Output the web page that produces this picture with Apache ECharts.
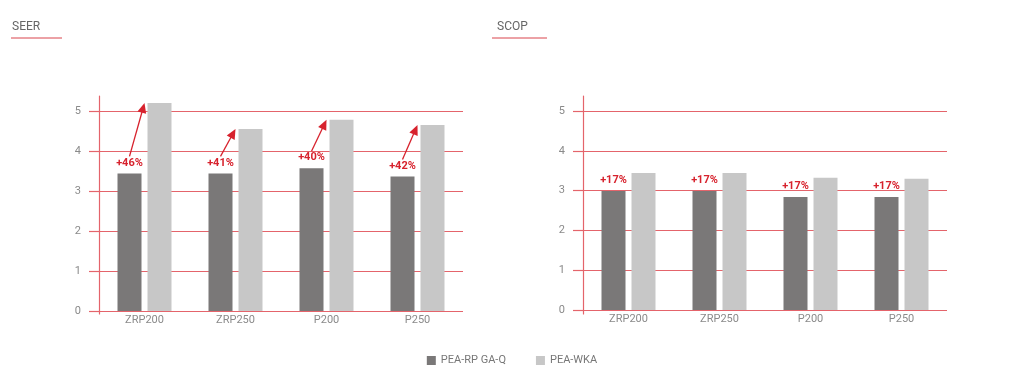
<!DOCTYPE html>
<html>
<head>
<meta charset="utf-8">
<script src="https://cdn.jsdelivr.net/npm/echarts@6/dist/echarts.min.js"></script>
<style>html,body{margin:0;padding:0;background:#fff;}#c{width:1024px;height:382px;}</style>
</head>
<body>
<div id="c"></div>
<script>
const categories = ['ZRP200', 'ZRP250', 'P200', 'P250'];
const seriesNames = ['PEA-RP GA-Q', 'PEA-WKA'];
const seerDark = [3.44, 3.44, 3.57, 3.36];
const seerLight = [5.2, 4.55, 4.78, 4.65];
const seerPct = ['+46%', '+41%', '+40%', '+42%'];
const scopDark = [2.99, 2.99, 2.84, 2.84];
const scopLight = [3.44, 3.44, 3.32, 3.30];
const scopPct = ['+17%', '+17%', '+17%', '+17%'];
const titles = ['SEER', 'SCOP'];

const RED = '#e4646b';
const LABEL_RED = '#d7222d';
const DARK = '#7a7878';
const LIGHT = '#c7c7c7';
const FONT = 'Roboto, "Liberation Sans", sans-serif';

const chart = echarts.init(document.getElementById('c'), null, {renderer: 'canvas'});

function valueAxis(gridIndex) {
  return {
    type: 'value', gridIndex, min: 0, max: 5, interval: 1,
    axisLine: {show: false},
    axisTick: {show: true, length: 10, lineStyle: {color: RED, width: 1.2}},
    axisLabel: {color: '#8a8a8a', fontSize: 11, margin: 18, fontFamily: FONT},
    splitLine: {show: true, lineStyle: {color: RED, width: 1.2}}
  };
}
function catAxis(gridIndex) {
  return {
    type: 'category', gridIndex, data: categories,
    axisLine: {show: false}, axisTick: {show: false},
    axisLabel: {color: '#8a8a8a', fontSize: 11, margin: 4, fontFamily: FONT}
  };
}
function barSeries(idx, name, data, color, pct) {
  const s = {
    type: 'bar', name, data, xAxisIndex: idx, yAxisIndex: idx, clip: false,
    barWidth: 24, barGap: '25%', itemStyle: {color}, z: 3
  };
  if (pct) {
    s.label = {
      show: true, position: 'top', distance: 5,
      formatter: p => pct[p.dataIndex],
      color: LABEL_RED, fontWeight: 'bold', fontSize: 11, fontFamily: FONT
    };
  }
  return s;
}
function arrowSeries(idx, dark, light) {
  return {
    type: 'custom', xAxisIndex: idx, yAxisIndex: idx, z: 5, silent: true,
    clip: false,
    data: dark.map((d, i) => [i, d, light[i]]),
    renderItem: function (params, api) {
      const c = api.value(0);
      const d = api.coord([c, api.value(1)]);
      const l = api.coord([c, api.value(2)]);
      const sx = d[0] - 15, sy = d[1] - 17;
      const tx = l[0], ty = l[1];
      const dx = tx - sx, dy = ty - sy;
      const len = Math.sqrt(dx * dx + dy * dy);
      const ux = dx / len, uy = dy / len;
      const hl = 10, hw = 4.5;
      const bx = tx - ux * hl, by = ty - uy * hl;
      return {
        type: 'group',
        children: [
          {type: 'line', shape: {x1: sx, y1: sy, x2: bx + ux * 2, y2: by + uy * 2},
           style: {stroke: LABEL_RED, lineWidth: 1.3}},
          {type: 'polygon', shape: {points: [[tx, ty], [bx - uy * hw, by + ux * hw], [bx + uy * hw, by - ux * hw]]},
           style: {fill: LABEL_RED}}
        ]
      };
    }
  };
}
function lineAxisPair(gridIndex) {
  return {
    x: {type: 'value', gridIndex, show: false},
    y: {type: 'value', gridIndex, axisLine: {show: true, lineStyle: {color: RED, width: 1.2}},
        axisTick: {show: false}, axisLabel: {show: false}, splitLine: {show: false}}
  };
}
const la2 = lineAxisPair(2), la3 = lineAxisPair(3);

chart.setOption({
  animation: false,
  textStyle: {fontFamily: FONT},
  title: [
    {text: titles[0], left: 12, top: 21, padding: 0, textStyle: {fontSize: 12, color: '#666', fontWeight: 'normal', fontFamily: FONT}},
    {text: titles[1], left: 497, top: 21, padding: 0, textStyle: {fontSize: 12, color: '#666', fontWeight: 'normal', fontFamily: FONT}}
  ],
  graphic: [
    {type: 'line', shape: {x1: 11, y1: 38, x2: 62, y2: 38}, style: {stroke: '#d9454d', lineWidth: 1}},
    {type: 'line', shape: {x1: 492, y1: 38, x2: 547, y2: 38}, style: {stroke: '#d9454d', lineWidth: 1}}
  ],
  legend: {
    data: seriesNames, bottom: 11, left: 'center', icon: 'rect',
    itemWidth: 9, itemHeight: 9, itemGap: 30,
    textStyle: {color: '#777', fontSize: 11, fontFamily: FONT}
  },
  grid: [
    {left: 99, top: 111, width: 364, height: 200},
    {left: 583, top: 111, width: 364, height: 199},
    {left: 99, top: 96, width: 1, height: 218},
    {left: 583, top: 96, width: 1, height: 218}
  ],
  xAxis: [catAxis(0), catAxis(1), la2.x, la3.x],
  yAxis: [valueAxis(0), valueAxis(1), la2.y, la3.y],
  series: [
    barSeries(0, seriesNames[0], seerDark, DARK, seerPct),
    barSeries(0, seriesNames[1], seerLight, LIGHT),
    barSeries(1, seriesNames[0], scopDark, DARK, scopPct),
    barSeries(1, seriesNames[1], scopLight, LIGHT),
    arrowSeries(0, seerDark, seerLight)
  ]
});
</script>
</body>
</html>
